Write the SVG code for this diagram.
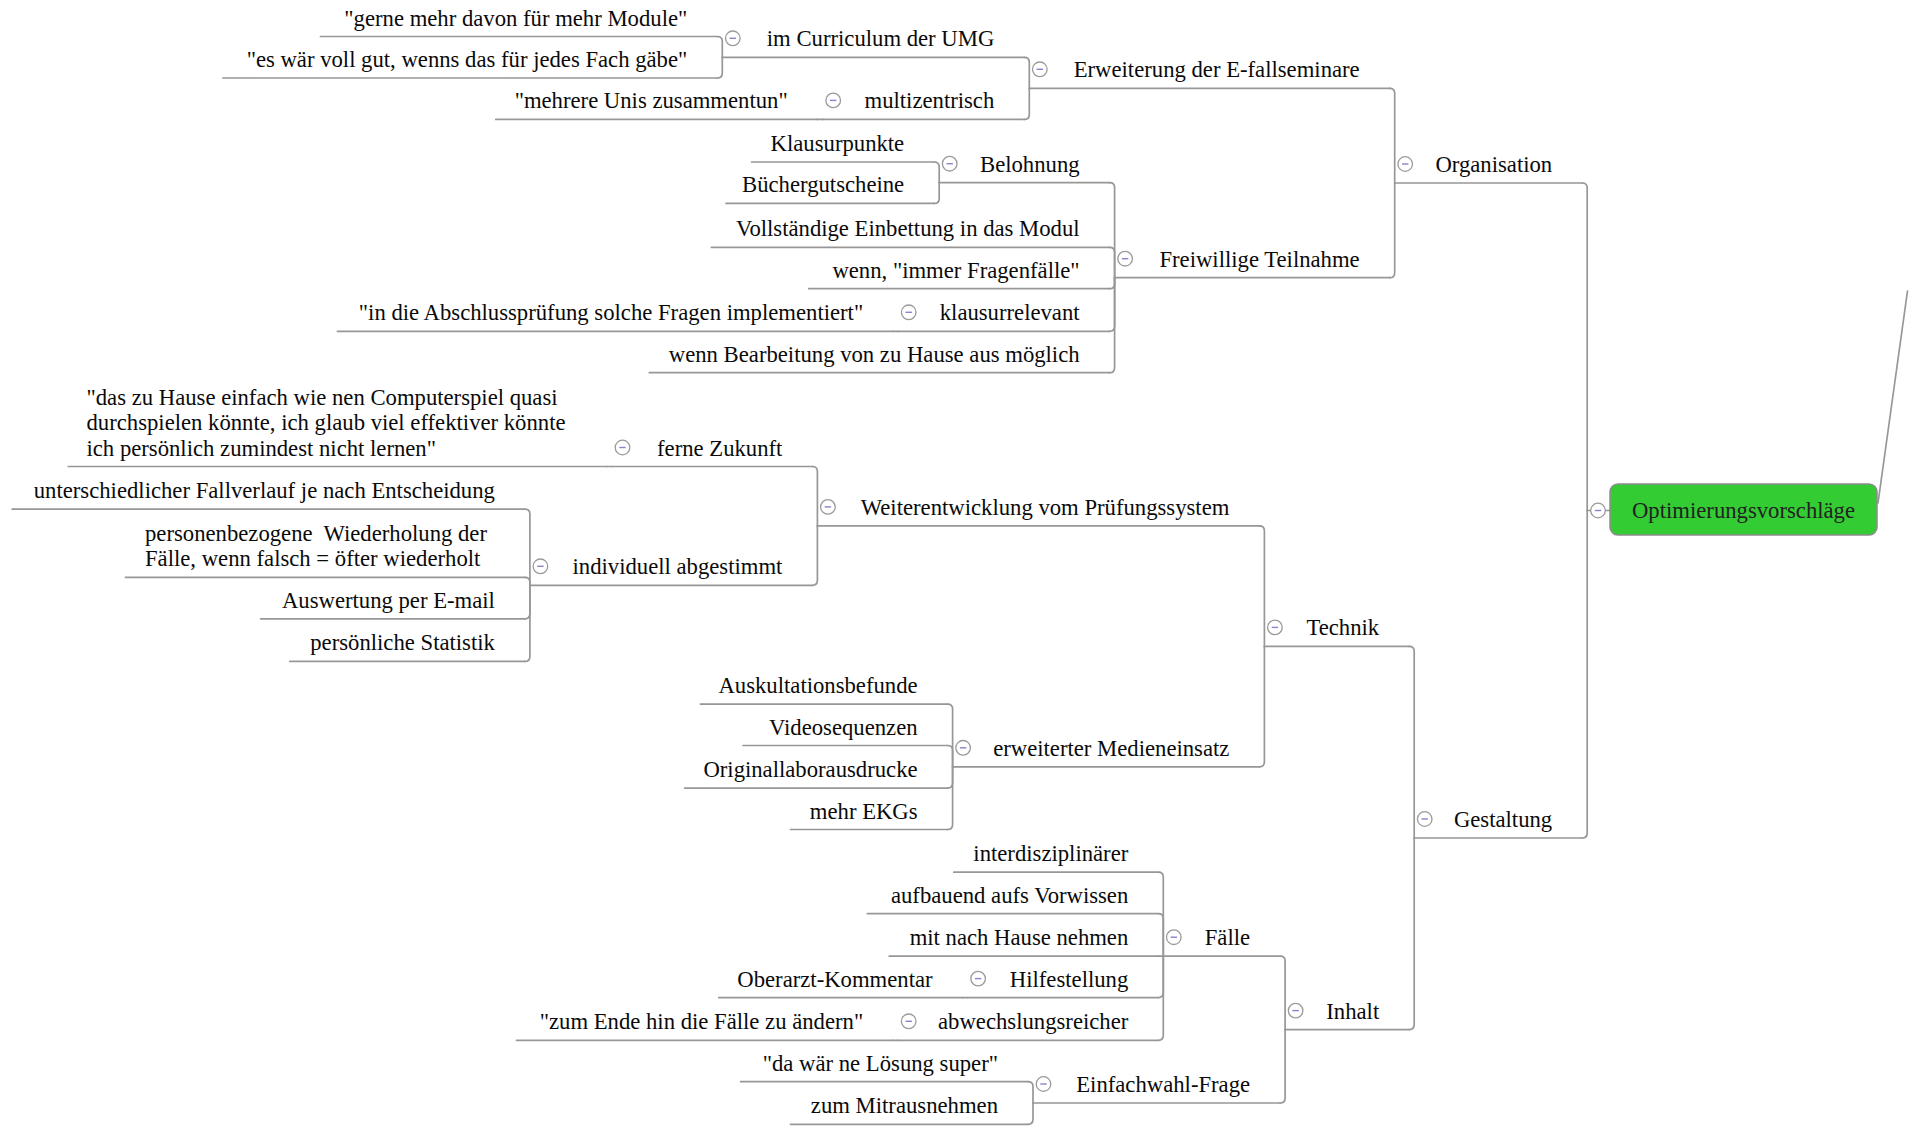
<svg xmlns="http://www.w3.org/2000/svg" xmlns:xlink="http://www.w3.org/1999/xlink" width="1910" height="1126" viewBox="0 0 1910 1126">
  <style>
    .ul { fill: none; stroke: #979797; stroke-width: 1.7; stroke-linecap: round; }
    .cn { fill: none; stroke: #979797; stroke-width: 1.7; stroke-linecap: round; }
    .t { font-family: "Liberation Serif", "Times New Roman", serif; font-size: 22.7px; fill: #0a0a0a; transform: translate(0px, 1.5px); }
    .e { text-anchor: end; }
    .pre { white-space: pre; }
    .root-box { fill: #33cc33; stroke: #8c8c8c; stroke-width: 1.5; }
    .root-t { font-family: "Liberation Serif", "Times New Roman", serif; font-size: 22.7px; fill: #222; text-anchor: middle; }
  </style>
  <defs>
    <!-- collapse toggle: grey ring with a small blue minus -->
    <symbol id="tg" viewBox="-8 -8 16 16" width="16" height="16" overflow="visible">
      <circle r="7.3" fill="#ffffff" stroke="#9a9a9a" stroke-width="1.3"/>
      <line x1="-3.2" y1="0" x2="3.2" y2="0" stroke="#8585cc" stroke-width="1.4"/>
    </symbol>
  </defs>
  <rect width="1910" height="1126" fill="#ffffff"/>

  <!-- branch connectors: each runs from the parent junction to the child underline -->
  <g id="connectors">
    <path class="cn" d="M1610 510.5 H1587.2"/>
    <path class="cn" d="M1587.2 510.5 V188 Q1587.2 183 1582.2 183"/>
    <path class="cn" d="M1587.2 510.5 V833 Q1587.2 838 1582.2 838"/>
    <path class="cn" d="M1878 503 L1907.5 291"/>

    <path class="cn" d="M1394.7 183 V93.3 Q1394.7 88.3 1389.7 88.3"/>
    <path class="cn" d="M1394.7 183 V272.7 Q1394.7 277.7 1389.7 277.7"/>

    <path class="cn" d="M1029.3 88.3 V62.3 Q1029.3 57.3 1024.3 57.3"/>
    <path class="cn" d="M1029.3 88.3 V114.4 Q1029.3 119.4 1024.3 119.4"/>
    <path class="cn" d="M722.3 57.3 V41.5 Q722.3 36.5 717.3 36.5"/>
    <path class="cn" d="M722.3 57.3 V73 Q722.3 78 717.3 78"/>
    <path class="cn" d="M822.7 119.4 H817.7"/>

    <path class="cn" d="M1114.6 277.7 V187.7 Q1114.6 182.7 1109.6 182.7"/>
    <path class="cn" d="M1114.6 277.7 V252.3 Q1114.6 247.3 1109.6 247.3"/>
    <path class="cn" d="M1114.6 277.7 V283.7 Q1114.6 288.7 1109.6 288.7"/>
    <path class="cn" d="M1114.6 277.7 V326.3 Q1114.6 331.3 1109.6 331.3"/>
    <path class="cn" d="M1114.6 277.7 V367.7 Q1114.6 372.7 1109.6 372.7"/>
    <path class="cn" d="M939.2 182.7 V167 Q939.2 162 934.2 162"/>
    <path class="cn" d="M939.2 182.7 V198.4 Q939.2 203.4 934.2 203.4"/>
    <path class="cn" d="M898.2 331.3 H893.2"/>

    <path class="cn" d="M1414.2 838 V651.4 Q1414.2 646.4 1409.2 646.4"/>
    <path class="cn" d="M1414.2 838 V1024.6 Q1414.2 1029.6 1409.2 1029.6"/>

    <path class="cn" d="M1264.4 646.4 V530.9 Q1264.4 525.9 1259.4 525.9"/>
    <path class="cn" d="M1264.4 646.4 V761.8 Q1264.4 766.8 1259.4 766.8"/>
    <path class="cn" d="M817.4 525.9 V471.5 Q817.4 466.5 812.4 466.5"/>
    <path class="cn" d="M817.4 525.9 V580.3 Q817.4 585.3 812.4 585.3"/>
    <path class="cn" d="M612 466.5 H607"/>
    <path class="cn" d="M529.9 585.3 V514.2 Q529.9 509.2 524.9 509.2"/>
    <path class="cn" d="M529.9 585.3 V582.4 Q529.9 577.4 524.9 577.4"/>
    <path class="cn" d="M529.9 585.3 V613.8 Q529.9 618.8 524.9 618.8"/>
    <path class="cn" d="M529.9 585.3 V656.4 Q529.9 661.4 524.9 661.4"/>
    <path class="cn" d="M952.6 766.8 V709.1 Q952.6 704.1 947.6 704.1"/>
    <path class="cn" d="M952.6 766.8 V750.5 Q952.6 745.5 947.6 745.5"/>
    <path class="cn" d="M952.6 766.8 V783.1 Q952.6 788.1 947.6 788.1"/>
    <path class="cn" d="M952.6 766.8 V824.5 Q952.6 829.5 947.6 829.5"/>

    <path class="cn" d="M1285.1 1029.6 V961.2 Q1285.1 956.2 1280.1 956.2"/>
    <path class="cn" d="M1285.1 1029.6 V1098 Q1285.1 1103 1280.1 1103"/>
    <path class="cn" d="M1163.3 956.2 V877.2 Q1163.3 872.2 1158.3 872.2"/>
    <path class="cn" d="M1163.3 956.2 V918.6 Q1163.3 913.6 1158.3 913.6"/>
    <path class="cn" d="M1163.3 956.2 H1158.3"/>
    <path class="cn" d="M1163.3 956.2 V992.6 Q1163.3 997.6 1158.3 997.6"/>
    <path class="cn" d="M1163.3 956.2 V1035.3 Q1163.3 1040.3 1158.3 1040.3"/>
    <path class="cn" d="M967.6 997.6 H962.6"/>
    <path class="cn" d="M898.2 1040.3 H893.2"/>
    <path class="cn" d="M1033 1103 V1086.7 Q1033 1081.7 1028 1081.7"/>
    <path class="cn" d="M1033 1103 V1119.3 Q1033 1124.3 1028 1124.3"/>
  </g>

  <!-- root -->
  <g id="root">
    <rect class="root-box" x="1610" y="484" width="267" height="51" rx="8"/>
    <text class="root-t" x="1743.5" y="517.5">Optimierungsvorschläge</text>
    <use href="#tg" x="1590" y="502.5"/>
  </g>

  <!-- Organisation branch -->
  <g id="n-organisation">
    <path class="ul" d="M1394.7 183 H1582.2"/>
    <text class="t e" x="1552.2" y="170.5">Organisation</text>
    <use href="#tg" x="1397.2" y="156"/>
  </g>
  <g id="n-erweiterung">
    <path class="ul" d="M1029.3 88.3 H1389.7"/>
    <text class="t e" x="1359.7" y="75.8">Erweiterung der E-fallseminare</text>
    <use href="#tg" x="1031.8" y="61.3"/>
  </g>
  <g id="n-curriculum">
    <path class="ul" d="M722.3 57.3 H1024.3"/>
    <text class="t e" x="994.3" y="44.8">im Curriculum der UMG</text>
    <use href="#tg" x="724.8" y="30.3"/>
  </g>
  <g id="n-gerne">
    <path class="ul" d="M320.4 36.5 H717.3"/>
    <text class="t e" x="687.3" y="24">"gerne mehr davon für mehr Module"</text>
  </g>
  <g id="n-fach">
    <path class="ul" d="M222.9 78 H717.3"/>
    <text class="t e" x="687.3" y="65.5">"es wär voll gut, wenns das für jedes Fach gäbe"</text>
  </g>
  <g id="n-multizentrisch">
    <path class="ul" d="M822.7 119.4 H1024.3"/>
    <text class="t e" x="994.3" y="106.9">multizentrisch</text>
    <use href="#tg" x="825.2" y="92.4"/>
  </g>
  <g id="n-unis">
    <path class="ul" d="M495.8 119.4 H817.7"/>
    <text class="t e" x="787.7" y="106.9">"mehrere Unis zusammentun"</text>
  </g>
  <g id="n-freiwillig">
    <path class="ul" d="M1114.6 277.7 H1389.7"/>
    <text class="t e" x="1359.7" y="265.2">Freiwillige Teilnahme</text>
    <use href="#tg" x="1117.1" y="250.7"/>
  </g>
  <g id="n-belohnung">
    <path class="ul" d="M939.2 182.7 H1109.6"/>
    <text class="t e" x="1079.6" y="170.2">Belohnung</text>
    <use href="#tg" x="941.7" y="155.7"/>
  </g>
  <g id="n-klausurpunkte">
    <path class="ul" d="M751.6 162 H934.2"/>
    <text class="t e" x="904.2" y="149.5">Klausurpunkte</text>
  </g>
  <g id="n-buecher">
    <path class="ul" d="M726 203.4 H934.2"/>
    <text class="t e" x="904.2" y="190.9">Büchergutscheine</text>
  </g>
  <g id="n-einbettung">
    <path class="ul" d="M711.4 247.3 H1109.6"/>
    <text class="t e" x="1079.6" y="234.8">Vollständige Einbettung in das Modul</text>
  </g>
  <g id="n-fragenfaelle">
    <path class="ul" d="M808.8 288.7 H1109.6"/>
    <text class="t e" x="1079.6" y="276.2">wenn, "immer Fragenfälle"</text>
  </g>
  <g id="n-klausurrelevant">
    <path class="ul" d="M898.2 331.3 H1109.6"/>
    <text class="t e" x="1079.6" y="318.8">klausurrelevant</text>
    <use href="#tg" x="900.7" y="304.3"/>
  </g>
  <g id="n-abschluss">
    <path class="ul" d="M337.4 331.3 H893.2"/>
    <text class="t e" x="863.2" y="318.8">"in die Abschlussprüfung solche Fragen implementiert"</text>
  </g>
  <g id="n-zuhause">
    <path class="ul" d="M649.3 372.7 H1109.6"/>
    <text class="t e" x="1079.6" y="360.2">wenn Bearbeitung von zu Hause aus möglich</text>
  </g>

  <!-- Gestaltung branch -->
  <g id="n-gestaltung">
    <path class="ul" d="M1414.2 838 H1582.2"/>
    <text class="t e" x="1552.2" y="825.5">Gestaltung</text>
    <use href="#tg" x="1416.7" y="811"/>
  </g>
  <g id="n-technik">
    <path class="ul" d="M1264.4 646.4 H1409.2"/>
    <text class="t e" x="1379.2" y="633.9">Technik</text>
    <use href="#tg" x="1266.9" y="619.4"/>
  </g>
  <g id="n-weiterentwicklung">
    <path class="ul" d="M817.4 525.9 H1259.4"/>
    <text class="t e" x="1229.4" y="513.4">Weiterentwicklung vom Prüfungssystem</text>
    <use href="#tg" x="819.9" y="498.9"/>
  </g>
  <g id="n-ferne">
    <path class="ul" d="M612 466.5 H812.4"/>
    <text class="t e" x="782.4" y="454">ferne Zukunft</text>
    <use href="#tg" x="614.5" y="439.5"/>
  </g>
  <g id="n-computerspiel">
    <path class="ul" d="M68.2 466.5 H607"/>
    <text class="t" x="86.5" y="403">"das zu Hause einfach wie nen Computerspiel quasi</text>
    <text class="t" x="86.5" y="428.6">durchspielen könnte, ich glaub viel effektiver könnte</text>
    <text class="t" x="86.5" y="454">ich persönlich zumindest nicht lernen"</text>
  </g>
  <g id="n-individuell">
    <path class="ul" d="M529.9 585.3 H812.4"/>
    <text class="t e" x="782.4" y="572.8">individuell abgestimmt</text>
    <use href="#tg" x="532.4" y="558.3"/>
  </g>
  <g id="n-fallverlauf">
    <path class="ul" d="M12.2 509.2 H524.9"/>
    <text class="t e" x="494.9" y="496.7">unterschiedlicher Fallverlauf je nach Entscheidung</text>
  </g>
  <g id="n-wiederholung">
    <path class="ul" d="M125.5 577.4 H524.9"/>
    <text class="t pre" x="145" y="539.3">personenbezogene  Wiederholung der</text>
    <text class="t" x="145" y="564.9">Fälle, wenn falsch = öfter wiederholt</text>
  </g>
  <g id="n-email">
    <path class="ul" d="M260.7 618.8 H524.9"/>
    <text class="t e" x="494.9" y="606.3">Auswertung per E-mail</text>
  </g>
  <g id="n-statistik">
    <path class="ul" d="M289.9 661.4 H524.9"/>
    <text class="t e" x="494.9" y="648.9">persönliche Statistik</text>
  </g>
  <g id="n-medien">
    <path class="ul" d="M952.6 766.8 H1259.4"/>
    <text class="t e" x="1229.4" y="754.3">erweiterter Medieneinsatz</text>
    <use href="#tg" x="955.1" y="739.8"/>
  </g>
  <g id="n-auskultation">
    <path class="ul" d="M700.4 704.1 H947.6"/>
    <text class="t e" x="917.6" y="691.6">Auskultationsbefunde</text>
  </g>
  <g id="n-video">
    <path class="ul" d="M743 745.5 H947.6"/>
    <text class="t e" x="917.6" y="733">Videosequenzen</text>
  </g>
  <g id="n-labor">
    <path class="ul" d="M684.6 788.1 H947.6"/>
    <text class="t e" x="917.6" y="775.6">Originallaborausdrucke</text>
  </g>
  <g id="n-ekg">
    <path class="ul" d="M790.5 829.5 H947.6"/>
    <text class="t e" x="917.6" y="817">mehr EKGs</text>
  </g>
  <g id="n-inhalt">
    <path class="ul" d="M1285.1 1029.6 H1409.2"/>
    <text class="t e" x="1379.2" y="1017.1">Inhalt</text>
    <use href="#tg" x="1287.6" y="1002.6"/>
  </g>
  <g id="n-faelle">
    <path class="ul" d="M1163.3 956.2 H1280.1"/>
    <text class="t e" x="1250.1" y="943.7">Fälle</text>
    <use href="#tg" x="1165.8" y="929.2"/>
  </g>
  <g id="n-interdisziplinaer">
    <path class="ul" d="M953.8 872.2 H1158.3"/>
    <text class="t e" x="1128.3" y="859.7">interdisziplinärer</text>
  </g>
  <g id="n-vorwissen">
    <path class="ul" d="M867.3 913.6 H1158.3"/>
    <text class="t e" x="1128.3" y="901.1">aufbauend aufs Vorwissen</text>
  </g>
  <g id="n-mitnehmen">
    <path class="ul" d="M889.2 956.2 H1158.3"/>
    <text class="t e" x="1128.3" y="943.7">mit nach Hause nehmen</text>
  </g>
  <g id="n-hilfestellung">
    <path class="ul" d="M967.6 997.6 H1158.3"/>
    <text class="t e" x="1128.3" y="985.1">Hilfestellung</text>
    <use href="#tg" x="970.1" y="970.6"/>
  </g>
  <g id="n-oberarzt">
    <path class="ul" d="M718.7 997.6 H962.6"/>
    <text class="t e" x="932.6" y="985.1">Oberarzt-Kommentar</text>
  </g>
  <g id="n-abwechslung">
    <path class="ul" d="M898.2 1040.3 H1158.3"/>
    <text class="t e" x="1128.3" y="1027.8">abwechslungsreicher</text>
    <use href="#tg" x="900.7" y="1013.3"/>
  </g>
  <g id="n-ende">
    <path class="ul" d="M516.5 1040.3 H893.2"/>
    <text class="t e" x="863.2" y="1027.8">"zum Ende hin die Fälle zu ändern"</text>
  </g>
  <g id="n-einfachwahl">
    <path class="ul" d="M1033 1103 H1280.1"/>
    <text class="t e" x="1250.1" y="1090.5">Einfachwahl-Frage</text>
    <use href="#tg" x="1035.5" y="1076"/>
  </g>
  <g id="n-loesung">
    <path class="ul" d="M740.6 1081.7 H1028"/>
    <text class="t e" x="998" y="1069.2">"da wär ne Lösung super"</text>
  </g>
  <g id="n-mitraus">
    <path class="ul" d="M790.5 1124.3 H1028"/>
    <text class="t e" x="998" y="1111.8">zum Mitrausnehmen</text>
  </g>
</svg>
